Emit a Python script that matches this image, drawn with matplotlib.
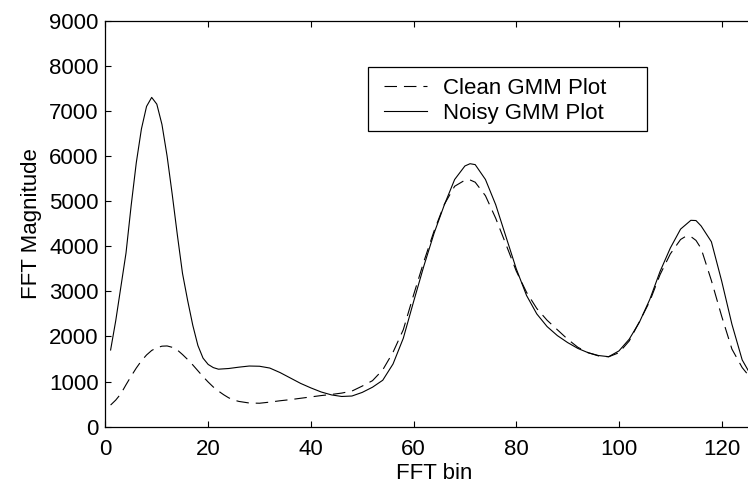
# Clean vs noisy GMM spectral envelope (FFT magnitude per bin)

import matplotlib.pyplot as plt
from matplotlib.patches import Rectangle

plt.rcParams["font.family"] = ["Liberation Sans", "DejaVu Sans"]
plt.rcParams["lines.scale_dashes"] = False

# values
clean_bin = [1, 2, 3, 4, 5, 6, 7, 8, 9, 10, 11, 12, 13, 14, 15, 16, 17, 18, 19,
             20, 21, 22, 23, 24, 25, 26, 28, 30, 32, 34, 36, 38, 40, 42, 44, 46,
             48, 50, 52, 54, 56, 58, 60, 62, 64, 66, 68, 70, 71, 72, 74, 76, 78,
             80, 82, 84, 86, 88, 90, 92, 94, 96, 98, 100, 102, 104, 106, 108,
             110, 112, 113, 114, 115, 116, 118, 120, 122, 124, 126, 128]
clean_mag = [480, 590, 730, 930, 1120, 1300, 1460, 1590, 1690, 1750, 1785, 1790,
             1760, 1700, 1600, 1490, 1370, 1240, 1110, 990, 880, 790, 710, 640,
             590, 560, 525, 520, 545, 575, 600, 630, 660, 690, 715, 745, 790, 900,
             1020, 1260, 1650, 2150, 2920, 3660, 4340, 4930, 5330, 5465, 5470,
             5420, 5120, 4620, 4040, 3450, 2980, 2620, 2360, 2150, 1940, 1760,
             1640, 1570, 1550, 1640, 1900, 2330, 2780, 3370, 3830, 4150, 4220,
             4215, 4130, 3950, 3240, 2450, 1720, 1310, 1030, 820]

noisy_bin = [1, 2, 3, 4, 5, 6, 7, 8, 9, 10, 11, 12, 13, 14, 15, 16, 17, 18, 19,
             20, 21, 22, 24, 26, 28, 30, 32, 34, 36, 38, 40, 42, 44, 46, 48, 50,
             52, 54, 56, 58, 60, 62, 64, 66, 68, 70, 71, 72, 74, 76, 78, 80, 82,
             84, 86, 88, 90, 92, 94, 96, 98, 100, 102, 104, 106, 108, 110, 112,
             114, 115, 116, 118, 120, 122, 124, 126, 128]
noisy_mag = [1700, 2350, 3100, 3850, 4900, 5850, 6600, 7100, 7300, 7150, 6700,
             6000, 5150, 4250, 3400, 2800, 2250, 1800, 1520, 1380, 1310, 1275,
             1290, 1320, 1345, 1340, 1300, 1200, 1080, 960, 860, 770, 705, 670,
             680, 760, 875, 1030, 1390, 1960, 2770, 3560, 4290, 4920, 5480, 5780,
             5830, 5810, 5480, 4920, 4210, 3500, 2910, 2500, 2220, 2020, 1865,
             1735, 1640, 1578, 1552, 1680, 1940, 2320, 2820, 3440, 3960, 4380,
             4575, 4570, 4450, 4100, 3230, 2270, 1480, 1080, 800]

fig = plt.figure(figsize=(7.48, 4.84), dpi=100)
ax = fig.add_axes([0.141, 0.1184, 0.8787, 0.8388])

ax.plot(clean_bin, clean_mag, color="black", lw=0.8, dashes=(9, 5),
        label="Clean GMM Plot")
ax.plot(noisy_bin, noisy_mag, color="black", lw=0.8, label="Noisy GMM Plot")

ax.set_xlim(0, 128)
ax.set_ylim(0, 9000)
ax.set_xticks(range(0, 121, 20))
ax.set_yticks(range(0, 9001, 1000))
ax.tick_params(direction="in", length=4.3, width=0.8, labelsize=16,
               top=True, right=True)
ax.tick_params(axis="x", pad=9)
ax.tick_params(axis="y", pad=5)
for s in ax.spines.values():
    s.set_linewidth(0.9)

ax.set_xlabel("FFT bin", fontsize=16, labelpad=2)
ax.set_ylabel("FFT Magnitude", fontsize=16, labelpad=5)

# legend entries without frame, box drawn separately (wider right margin)
ax.legend(loc="upper left", bbox_to_anchor=(0.4237, 0.860), fontsize=16,
          frameon=False, borderaxespad=0, borderpad=0, handlelength=1.94,
          handletextpad=0.72, labelspacing=0.19)
fig.add_artist(Rectangle((0.492, 0.730), 0.373, 0.1322, transform=fig.transFigure,
                         fill=False, edgecolor="black", lw=0.9))

fig.savefig("out.png", dpi=100)
